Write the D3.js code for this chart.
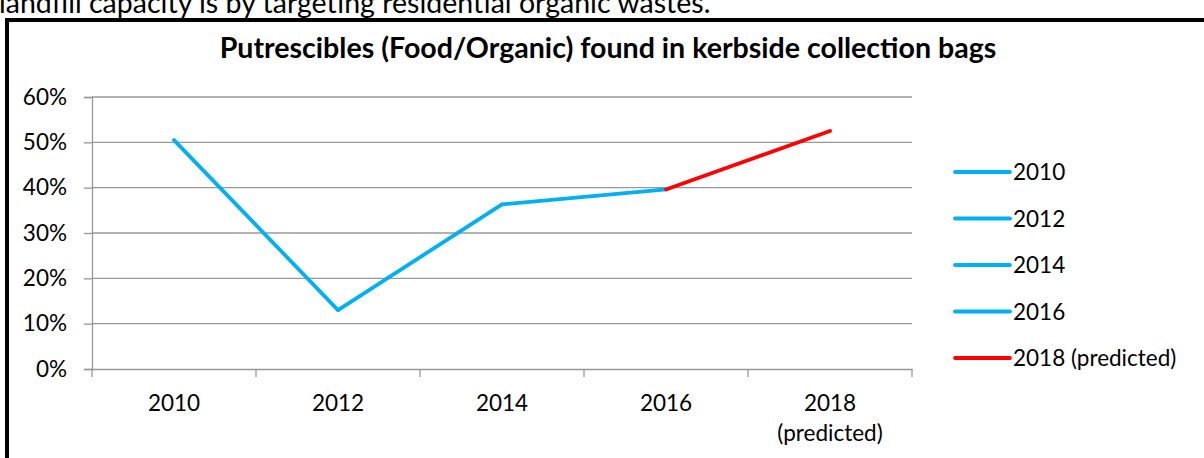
<!DOCTYPE html>
<html><head><meta charset="utf-8">
<script src="https://cdn.jsdelivr.net/npm/d3@7"></script>
<style>html,body{margin:0;padding:0;background:#fff;overflow:hidden}</style>
</head><body>
<svg id="c" width="1204" height="458"></svg>
<script>
const categories = ["2010", "2012", "2014", "2016", "2018 (predicted)"];
const values = [0.505, 0.13, 0.363, 0.396, 0.525];
const pointColors = ["#00B0F0", "#00B0F0", "#00B0F0", "#00B0F0", "#FF0000"];
const yTicks = [0, 0.1, 0.2, 0.3, 0.4, 0.5, 0.6];
const titleText = "Putrescibles (Food/Organic) found in kerbside collection bags";
const topText = "landfill capacity is by targeting residential organic wastes.";

const font = "Lato, 'Liberation Sans', sans-serif";
const svg = d3.select("#c");

function fit(sel, base, target) {
  const w = sel.node().getComputedTextLength();
  sel.attr("font-size", base * target / w);
}

// partial text above frame (cut off at the top edge, as in the reference)
const topLine = svg.append("text").attr("x", -1).attr("y", 13).attr("font-family", font)
  .attr("font-size", 26).attr("fill", "#000").text(topText);
fit(topLine, 26, 712);

// frame
svg.append("rect").attr("x", 7).attr("y", 20).attr("width", 1300).attr("height", 500)
  .attr("fill", "#fff").attr("stroke", "#000").attr("stroke-width", 4);

const m = {l: 92, r: 912, t: 97, b: 369};
const x = d3.scaleBand().domain(categories).range([m.l, m.r]);
const y = d3.scaleLinear().domain([0, 0.6]).range([m.b, m.t]);

// title
const title = svg.append("text").attr("x", 608).attr("y", 58).attr("text-anchor", "middle")
  .attr("font-family", font).attr("font-weight", "bold").attr("font-size", 24).attr("fill", "#000").text(titleText);
fit(title, 24, 777);

const fs = 22.5;

// gridlines
svg.append("g").selectAll("line").data(yTicks.slice(1)).join("line")
  .attr("x1", m.l).attr("x2", m.r).attr("y1", d => y(d)).attr("y2", d => y(d))
  .attr("stroke", "#989898").attr("stroke-width", 1.3);

// y axis
const yAxis = svg.append("g").attr("transform", `translate(${m.l},0)`)
  .call(d3.axisLeft(y).tickValues(yTicks).tickFormat(d3.format(".0%")).tickSize(8).tickPadding(17));
yAxis.select(".domain").attr("stroke", "#989898").attr("stroke-width", 1.3);
yAxis.selectAll(".tick line").attr("stroke", "#989898").attr("stroke-width", 1.3);
yAxis.selectAll("text").attr("font-family", font).attr("font-size", fs).attr("fill", "#000");

// x axis
const xAxis = svg.append("g").attr("transform", `translate(0,${m.b})`)
  .call(d3.axisBottom(x).tickSize(0).tickFormat(""));
xAxis.select(".domain").attr("stroke", "#989898").attr("stroke-width", 1.3);
const bounds = categories.map(c => x(c)).concat([x(categories[categories.length - 1]) + x.bandwidth()]);
xAxis.selectAll(".bt").data(bounds).join("line").attr("class", "bt")
  .attr("x1", d => d).attr("x2", d => d).attr("y1", 0).attr("y2", 8)
  .attr("stroke", "#989898").attr("stroke-width", 1.3);
const xl = svg.append("g").selectAll("text").data(categories).join("text")
  .attr("x", d => x(d) + x.bandwidth() / 2).attr("y", 411).attr("text-anchor", "middle")
  .attr("font-family", font).attr("font-size", fs).attr("fill", "#000");
xl.each(function(d) {
  const parts = d.split(" ");
  const t = d3.select(this);
  parts.forEach((p, i) => t.append("tspan").attr("x", x(d) + x.bandwidth() / 2).attr("dy", i ? 30 : 0).text(p));
});

// line segments
const pts = categories.map((c, i) => [x(c) + x.bandwidth() / 2, y(values[i])]);
const line = d3.line();
for (let i = 1; i < pts.length; i++) {
  svg.append("path").attr("d", line([pts[i - 1], pts[i]])).attr("fill", "none")
    .attr("stroke", pointColors[i]).attr("stroke-width", 3.8).attr("stroke-linecap", "round");
}

// legend
const lg = svg.append("g").selectAll("g").data(categories).join("g")
  .attr("transform", (d, i) => `translate(955,${172 + i * 46.5})`);
lg.append("line").attr("x1", 0).attr("x2", 55).attr("y1", 0).attr("y2", 0)
  .attr("stroke", (d, i) => pointColors[i]).attr("stroke-width", 3.8).attr("stroke-linecap", "round");
lg.append("text").attr("x", 58).attr("y", 8).attr("font-family", font).attr("font-size", fs)
  .attr("fill", "#000").text(d => d);
</script>
</body></html>
